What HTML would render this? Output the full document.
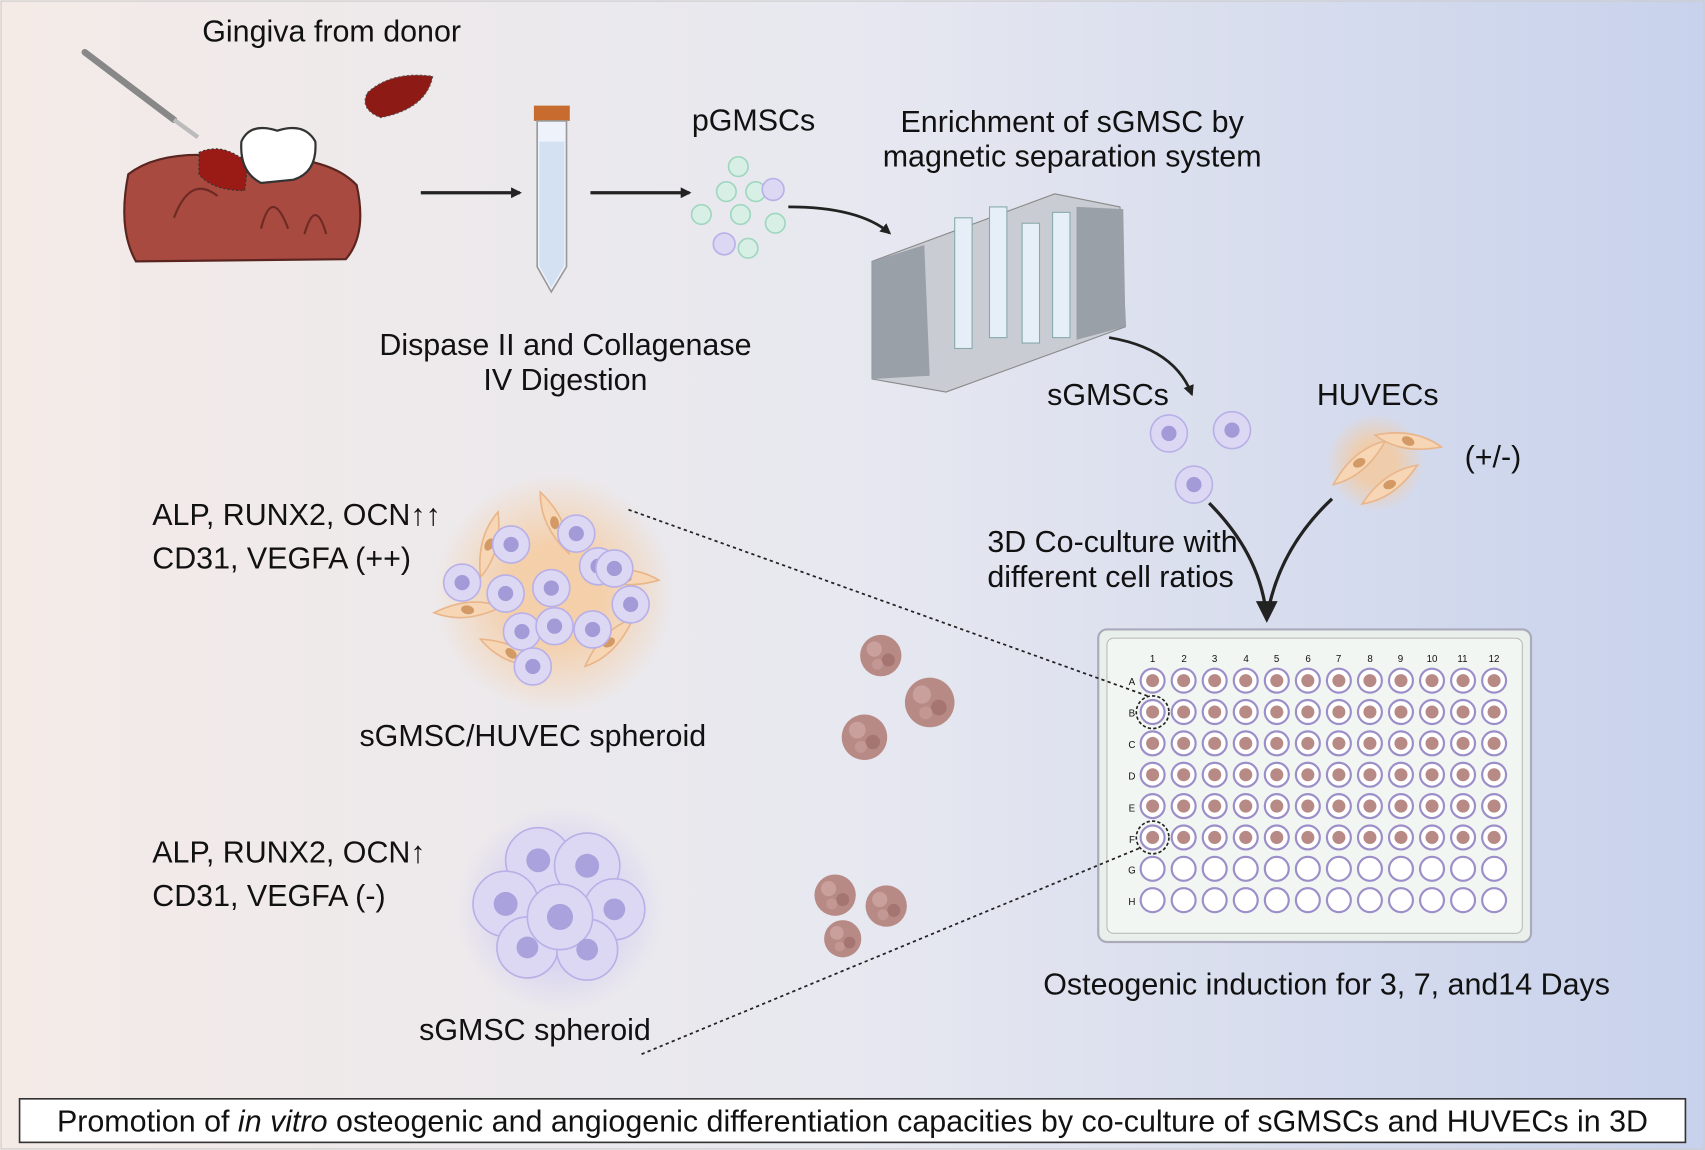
<!DOCTYPE html>
<html><head><meta charset="utf-8"><style>
html,body{margin:0;padding:0;width:1705px;height:1150px;overflow:hidden;background:#fff}
svg{display:block}
text{font-family:"Liberation Sans",sans-serif;fill:#111}
</style></head><body>
<svg width="1705" height="1150" viewBox="0 0 1568 1056" preserveAspectRatio="none" xmlns="http://www.w3.org/2000/svg">
<defs>
<linearGradient id="bg" x1="0" x2="1" y1="0" y2="0">
<stop offset="0" stop-color="#f4ebe7"/><stop offset="0.5" stop-color="#e7e8f0"/><stop offset="1" stop-color="#c8d2ec"/></linearGradient>
<radialGradient id="glowO"><stop offset="0.4" stop-color="#f6c99a" stop-opacity="0.8"/><stop offset="1" stop-color="#f6c99a" stop-opacity="0"/></radialGradient>
<radialGradient id="glowP"><stop offset="0.4" stop-color="#cfc9f2" stop-opacity="0.8"/><stop offset="1" stop-color="#cfc9f2" stop-opacity="0"/></radialGradient>
<marker id="ah" markerWidth="10" markerHeight="10" refX="8" refY="5" orient="auto" markerUnits="userSpaceOnUse"><path d="M0,0 L10,5 L0,10 Z" fill="#222"/></marker>
<g id="cell"><circle r="17" fill="#dcd8f4" stroke="#b8b0e6" stroke-width="1.5"/><circle r="7" fill="#a39ad8"/></g>
<g id="sph"><circle r="19" fill="#b88a86"/><circle cx="-6" cy="-6" r="7" fill="#c9a09c"/><circle cx="7" cy="4" r="6" fill="#a57571"/><circle cx="-3" cy="8" r="5" fill="#c39894"/></g>
<g id="huv"><path d="M-30,8 Q0,-14 30,-8 Q0,14 -30,8Z" fill="#f6d6b5" stroke="#e9b58a" stroke-width="1.5"/><ellipse rx="6" ry="4" fill="#d39a66"/></g>
</defs>
<rect width="1568" height="1056" fill="url(#bg)"/>
<rect x="1" y="1" width="1566" height="1054" fill="none" stroke="#ccc"/>

<text x="305" y="38" font-size="28" text-anchor="middle">Gingiva from donor</text>
<line x1="78" y1="48" x2="160" y2="110" stroke="#888" stroke-width="6" stroke-linecap="round"/>
<line x1="160" y1="110" x2="182" y2="126" stroke="#bbb" stroke-width="4"/>
<path d="M338,85 Q360,65 398,70 Q392,100 350,108 Q330,100 338,85Z" fill="#8d1a14" stroke="#555" stroke-dasharray="2 2"/>
<path d="M118,160 Q150,135 220,145 Q300,140 328,170 Q338,215 318,238 L125,240 Q108,210 118,160Z" fill="#a94a40" stroke="#5a2520" stroke-width="2"/>
<path d="M160,200 Q175,160 200,180 M240,210 Q250,170 265,210 M280,215 Q290,180 300,215" fill="none" stroke="#6e2a24" stroke-width="2"/>
<path d="M183,140 Q205,130 228,150 L225,175 Q195,175 183,160Z" fill="#9a1a16" stroke="#333" stroke-dasharray="2 2"/>
<path d="M222,130 Q230,112 255,120 Q280,112 290,130 Q292,158 270,165 L240,168 Q220,158 222,130Z" fill="#fff" stroke="#333" stroke-width="2"/>

<line x1="387" y1="177" x2="478" y2="177" stroke="#222" stroke-width="3" marker-end="url(#ah)"/>
<line x1="543" y1="177" x2="634" y2="177" stroke="#222" stroke-width="3" marker-end="url(#ah)"/>
<rect x="491" y="97" width="33" height="14" fill="#c76c2e"/>
<path d="M494,111 L521,111 L521,245 L507,268 L494,245Z" fill="#eef3fb" stroke="#999" stroke-width="1.5"/>
<path d="M496,130 L519,130 L519,244 L507,264 L496,244Z" fill="#c8d8f0" opacity="0.7"/>
<text x="520" y="326" font-size="28" text-anchor="middle">Dispase II and Collagenase</text>
<text x="520" y="358" font-size="28" text-anchor="middle">IV Digestion</text>

<text x="693" y="120" font-size="28" text-anchor="middle">pGMSCs</text>
<g fill="#d8efe6" stroke="#9fd6c0" stroke-width="1.5">
<circle cx="679" cy="153" r="9"/><circle cx="668" cy="176" r="9"/><circle cx="695" cy="176" r="9"/><circle cx="645" cy="197" r="9"/><circle cx="681" cy="197" r="9"/><circle cx="713" cy="205" r="9"/><circle cx="688" cy="228" r="9"/></g>
<g fill="#dcd8f4" stroke="#b8b0e6" stroke-width="1.5"><circle cx="711" cy="174" r="10"/><circle cx="666" cy="224" r="10"/></g>
<path d="M725,190 Q790,190 818,214" fill="none" stroke="#222" stroke-width="2.5" marker-end="url(#ah)"/>

<text x="986" y="121" font-size="28" text-anchor="middle">Enrichment of sGMSC by</text>
<text x="986" y="153" font-size="28" text-anchor="middle">magnetic separation system</text>
<path d="M802,240 L970,178 L1030,190 L1035,300 L870,360 L802,348Z" fill="#c9ccd2" stroke="#888"/>
<path d="M802,240 L850,225 L855,345 L802,348Z" fill="#9aa0a8"/>
<path d="M990,190 L1033,192 L1035,300 L990,312Z" fill="#9aa0a8"/>
<g fill="#e6eef8" stroke="#8aa" stroke-width="1">
<rect x="878" y="200" width="16" height="120"/><rect x="910" y="190" width="16" height="120"/><rect x="940" y="205" width="16" height="110"/><rect x="968" y="195" width="16" height="115"/></g>
<path d="M1020,310 Q1080,320 1096,362" fill="none" stroke="#222" stroke-width="2.5" marker-end="url(#ah)"/>

<text x="1019" y="372" font-size="28" text-anchor="middle">sGMSCs</text>
<text x="1267" y="372" font-size="28" text-anchor="middle">HUVECs</text>
<use href="#cell" x="1075" y="398"/><use href="#cell" x="1133" y="395"/><use href="#cell" x="1098" y="445"/>
<circle cx="1265" cy="425" r="45" fill="url(#glowO)"/>
<use href="#huv" transform="translate(1250,425) rotate(-25)"/><use href="#huv" transform="translate(1295,405) rotate(25)"/><use href="#huv" transform="translate(1278,445) rotate(-20)"/>
<text x="1373" y="429" font-size="28" text-anchor="middle">(+/-)</text>
<text x="908" y="507" font-size="28">3D Co-culture with</text>
<text x="908" y="539" font-size="28">different cell ratios</text>
<path d="M1112,462 Q1160,510 1165,568" fill="none" stroke="#222" stroke-width="3"/>
<path d="M1225,458 Q1175,505 1165,568" fill="none" stroke="#222" stroke-width="3"/>
<path d="M1155,552 L1165,572 L1175,552Z" fill="#222"/>

<rect x="1010" y="578" width="398" height="287" rx="8" fill="#e9f0ec" stroke="#aab" stroke-width="2"/>
<rect x="1018" y="586" width="382" height="271" rx="6" fill="#f2f6f3" stroke="#bbb"/>
<g font-size="9" text-anchor="middle" fill="#335">
<text x="1060" y="608">1</text><text x="1089" y="608">2</text><text x="1117" y="608">3</text><text x="1146" y="608">4</text><text x="1174" y="608">5</text><text x="1203" y="608">6</text><text x="1231" y="608">7</text><text x="1260" y="608">8</text><text x="1288" y="608">9</text><text x="1317" y="608">10</text><text x="1345" y="608">11</text><text x="1374" y="608">12</text>
<text x="1041" y="629">A</text><text x="1041" y="658">B</text><text x="1041" y="687">C</text><text x="1041" y="716">D</text><text x="1041" y="745">E</text><text x="1041" y="774">F</text><text x="1041" y="802">G</text><text x="1041" y="831">H</text></g>
<g id="wells"></g>
<circle cx="1060" cy="654" r="15" fill="none" stroke="#222" stroke-dasharray="3 2" stroke-width="1.5"/>
<circle cx="1060" cy="769" r="15" fill="none" stroke="#222" stroke-dasharray="3 2" stroke-width="1.5"/>
<text x="1220" y="913" font-size="28" text-anchor="middle">Osteogenic induction for 3, 7, and14 Days</text>

<text x="140" y="482" font-size="28">ALP, RUNX2, OCN↑↑</text>
<text x="140" y="522" font-size="28">CD31, VEGFA (++)</text>
<circle cx="510" cy="545" r="110" fill="url(#glowO)"/>
<use href="#huv" transform="translate(450,500) rotate(-60)"/><use href="#huv" transform="translate(575,530) rotate(20)"/><use href="#huv" transform="translate(470,600) rotate(40)"/><use href="#huv" transform="translate(560,590) rotate(-30)"/><use href="#huv" transform="translate(510,480) rotate(80)"/><use href="#huv" transform="translate(430,560) rotate(10)"/>
<use href="#cell" x="470" y="500"/><use href="#cell" x="425" y="535"/><use href="#cell" x="465" y="545"/><use href="#cell" x="507" y="540"/><use href="#cell" x="550" y="520"/><use href="#cell" x="565" y="522"/><use href="#cell" x="480" y="580"/><use href="#cell" x="510" y="575"/><use href="#cell" x="545" y="578"/><use href="#cell" x="490" y="612"/><use href="#cell" x="530" y="490"/><use href="#cell" x="580" y="555"/>
<text x="490" y="685" font-size="28" text-anchor="middle">sGMSC/HUVEC spheroid</text>
<use href="#sph" x="810" y="602"/><use href="#sph" transform="translate(855,645) scale(1.2)"/><use href="#sph" transform="translate(795,677) scale(1.1)"/>

<text x="140" y="792" font-size="28">ALP, RUNX2, OCN↑</text>
<text x="140" y="832" font-size="28">CD31, VEGFA (-)</text>
<circle cx="515" cy="835" r="95" fill="url(#glowP)"/>
<g fill="#dcd8f4" stroke="#b8b0e6" stroke-width="1.5">
<circle cx="495" cy="790" r="30"/><circle cx="540" cy="795" r="30"/><circle cx="465" cy="830" r="30"/><circle cx="565" cy="835" r="28"/><circle cx="485" cy="870" r="28"/><circle cx="540" cy="872" r="28"/><circle cx="515" cy="842" r="30"/></g>
<g fill="#aaa2dc"><circle cx="495" cy="790" r="11"/><circle cx="540" cy="795" r="11"/><circle cx="465" cy="830" r="11"/><circle cx="565" cy="835" r="10"/><circle cx="485" cy="870" r="10"/><circle cx="540" cy="872" r="10"/><circle cx="515" cy="842" r="12"/></g>
<text x="492" y="955" font-size="28" text-anchor="middle">sGMSC spheroid</text>
<use href="#sph" x="768" y="822"/><use href="#sph" x="815" y="832"/><use href="#sph" transform="translate(775,862) scale(0.9)"/>

<line x1="578" y1="468" x2="1058" y2="640" stroke="#222" stroke-width="1.6" stroke-dasharray="3 3"/>
<line x1="590" y1="968" x2="1050" y2="778" stroke="#222" stroke-width="1.6" stroke-dasharray="3 3"/>

<rect x="18" y="1009" width="1532" height="40" fill="#fff" stroke="#333" stroke-width="1.5"/>
<text x="784" y="1039" font-size="28" text-anchor="middle">Promotion of <tspan font-style="italic">in vitro</tspan> osteogenic and angiogenic differentiation capacities by co-culture of sGMSCs and HUVECs in 3D</text>
</svg>
<script>
var g=document.getElementById('wells'),ns='http://www.w3.org/2000/svg';
for(var r=0;r<8;r++)for(var c=0;c<12;c++){var x=1060+c*28.55,y=625+r*28.8;
var w=document.createElementNS(ns,'circle');w.setAttribute('cx',x);w.setAttribute('cy',y);w.setAttribute('r',11);w.setAttribute('fill','#fff');w.setAttribute('stroke','#9c8ec8');w.setAttribute('stroke-width','2');g.appendChild(w);
if(r<6){var d=document.createElementNS(ns,'circle');d.setAttribute('cx',x);d.setAttribute('cy',y);d.setAttribute('r',6);d.setAttribute('fill','#b88a86');g.appendChild(d);}}
</script>
</body></html>
